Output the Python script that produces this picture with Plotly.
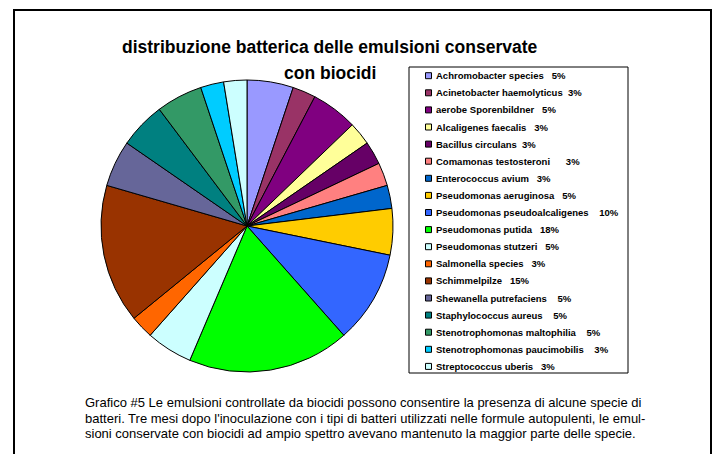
import plotly.graph_objects as go

W, H = 718, 454

# ---- data ----
categories = [
    "Achromobacter species   5%",
    "Acinetobacter haemolyticus  3%",
    "aerobe Sporenbildner   5%",
    "Alcaligenes faecalis   3%",
    "Bacillus circulans  3%",
    "Comamonas testosteroni      3%",
    "Enterococcus avium   3%",
    "Pseudomonas aeruginosa   5%",
    "Pseudomonas pseudoalcaligenes    10%",
    "Pseudomonas putida   18%",
    "Pseudomonas stutzeri   5%",
    "Salmonella species   3%",
    "Schimmelpilze   15%",
    "Shewanella putrefaciens    5%",
    "Staphylococcus aureus    5%",
    "Stenotrophomonas maltophilia    5%",
    "Stenotrophomonas paucimobilis    3%",
    "Streptococcus uberis   3%",
]
counts = [2, 1, 2, 1, 1, 1, 1, 2, 4, 7, 2, 1, 6, 2, 2, 2, 1, 1]
colors = [
    "#9999FF", "#993366", "#800080", "#FFFF99", "#660066", "#FF8080",
    "#0066CC", "#FFCC00", "#3366FF", "#00FF00", "#CCFFFF", "#FF6600",
    "#993300", "#666699", "#008080", "#339966", "#00CCFF", "#CCFFFF",
]
title_lines = ["distribuzione batterica delle emulsioni conservate", "con biocidi"]
caption_lines = [
    "Grafico #5 Le emulsioni controllate da biocidi possono consentire la presenza di alcune specie di",
    "batteri. Tre mesi dopo l'inoculazione con i tipi di batteri utilizzati nelle formule autopulenti, le emul-",
    "sioni conservate con biocidi ad ampio spettro avevano mantenuto la maggior parte delle specie.",
]

FONT = "Liberation Sans, Arial, sans-serif"


def px(x):
    return x / W


def py(y):
    return 1 - y / H


fig = go.Figure()
fig.add_trace(go.Pie(
    labels=categories,
    values=counts,
    sort=False,
    direction="clockwise",
    rotation=0,
    textinfo="none",
    marker=dict(colors=colors, line=dict(color="black", width=1)),
    domain=dict(x=[px(101), px(393)], y=[py(372), py(80)]),
    showlegend=False,
))

shapes = []
annotations = []

# outer frame
shapes.append(dict(type="rect", xref="paper", yref="paper",
                   x0=px(14), x1=px(711), y0=py(470), y1=py(10),
                   line=dict(color="black", width=2)))
# legend box
shapes.append(dict(type="rect", xref="paper", yref="paper",
                   x0=px(409), x1=px(628), y0=py(373), y1=py(67),
                   line=dict(color="black", width=1), fillcolor="rgba(0,0,0,0)"))

# legend entries
for i, (lab, col) in enumerate(zip(categories, colors)):
    yc = 75.7 + 17.1 * i
    shapes.append(dict(type="rect", xref="paper", yref="paper",
                       x0=px(425.5), x1=px(431.5), y0=py(yc + 3), y1=py(yc - 3),
                       line=dict(color="black", width=1), fillcolor=col))
    annotations.append(dict(
        x=px(434), y=py(yc), xref="paper", yref="paper",
        xanchor="left", yanchor="middle", showarrow=False,
        text=lab.replace(" ", "\u00a0"),
        font=dict(family=FONT, size=9.5, color="black", weight="bold"),
    ))

# title
for txt, yc in zip(title_lines, [47, 73]):
    annotations.append(dict(
        x=px(330), y=py(yc), xref="paper", yref="paper",
        xanchor="center", yanchor="middle", showarrow=False,
        text="<b>" + txt + "</b>",
        font=dict(family=FONT, size=17.5, color="black"),
    ))

# caption
for txt, yc in zip(caption_lines, [402.5, 418, 433.5]):
    annotations.append(dict(
        x=px(83), y=py(yc), xref="paper", yref="paper",
        xanchor="left", yanchor="middle", showarrow=False,
        text=txt,
        font=dict(family=FONT, size=13, color="black"),
    ))

fig.update_layout(
    width=W, height=H,
    margin=dict(l=0, r=0, t=0, b=0),
    paper_bgcolor="white", plot_bgcolor="white",
    shapes=shapes, annotations=annotations,
    showlegend=False,
)

fig.write_html("out.html")
